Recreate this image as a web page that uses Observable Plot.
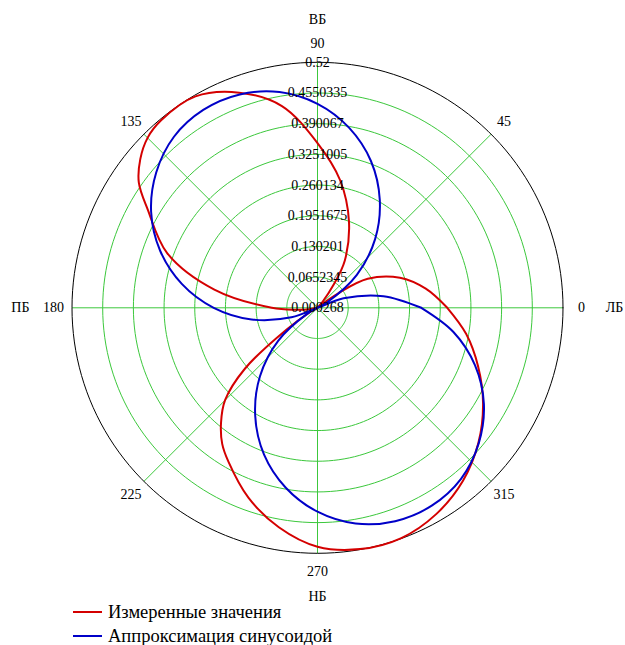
<!DOCTYPE html>
<html>
<head>
<meta charset="utf-8">
<script src="https://cdn.jsdelivr.net/npm/d3@7"></script>
<script src="https://cdn.jsdelivr.net/npm/@observablehq/plot@0.6"></script>
<style>
  html, body { margin: 0; padding: 0; background: #fff; width: 625px; height: 645px; overflow: hidden; }
  #chart { position: absolute; left: 0; top: 0; }
  .leg { position: absolute; left: 73px; height: 24px; display: flex; align-items: center;
         font-family: "Liberation Serif", "DejaVu Serif", "Times New Roman", serif; font-size: 18.5px; color: #000; white-space: nowrap; }
  .leg span.sw { display: inline-block; width: 29px; height: 2px; margin-right: 6px; }
</style>
</head>
<body>
<div id="chart"></div>
<div class="leg" style="top:600px"><span class="sw" style="background:#d40000"></span>Измеренные значения</div>
<div class="leg" style="top:624px"><span class="sw" style="background:#0000c8"></span>Аппроксимация синусоидой</div>
<script>
// ---- data ----
const angleTicks = [0, 45, 90, 135, 180, 225, 270, 315];
const radialTicks = [0.000268, 0.0652345, 0.130201, 0.1951675, 0.260134, 0.3251005, 0.390067, 0.4550335, 0.52];
const radialLabels = ["0.000268", "0.0652345", "0.130201", "0.1951675", "0.260134", "0.3251005", "0.390067", "0.4550335", "0.52"];
const compassAngles = [0, 90, 180, 270];
const compassLabels = ["ЛБ", "ВБ", "ПБ", "НБ"];

// measured values (red)
const measuredAngles = [0, 10, 20, 30, 35, 40, 45, 50, 55, 60, 70, 80, 90, 100, 110, 120, 130, 135, 140, 145, 150, 160, 170, 180, 185, 190, 200, 210, 215, 220, 225, 230, 235, 240, 250, 260, 270, 280, 290, 300, 310, 320, 330, 340, 350, 360];
const measuredValues = [0.275, 0.233, 0.186, 0.123, 0.053, 0.006, 0.000, 0.017, 0.059, 0.116, 0.195, 0.275, 0.349, 0.434, 0.485, 0.517, 0.517, 0.509, 0.490, 0.462, 0.415, 0.339, 0.222, 0.097, 0.047, 0.017, 0.000, 0.017, 0.080, 0.201, 0.277, 0.318, 0.352, 0.377, 0.428, 0.472, 0.506, 0.519, 0.519, 0.504, 0.479, 0.445, 0.405, 0.362, 0.320, 0.275];

// sinusoid approximation (blue)
const approxAngles = [0, 10, 20, 27, 30, 40, 50, 60, 70, 80, 90, 100, 110, 120, 130, 140, 150, 160, 170, 180, 190, 200, 207, 210, 220, 230, 240, 250, 260, 270, 280, 290, 300, 310, 320, 330, 340, 350, 360];
const approxValues = [0.220, 0.142, 0.059, 0.000, 0.025, 0.109, 0.190, 0.264, 0.331, 0.387, 0.432, 0.464, 0.481, 0.484, 0.473, 0.446, 0.407, 0.355, 0.292, 0.220, 0.142, 0.059, 0.000, 0.025, 0.109, 0.190, 0.264, 0.331, 0.387, 0.432, 0.464, 0.481, 0.484, 0.473, 0.446, 0.407, 0.355, 0.292, 0.220];

// ---- geometry helpers ----
const R0 = radialTicks[0];
const RMAX = radialTicks[radialTicks.length - 1];
const span = RMAX - R0;
const rad = (a) => a * Math.PI / 180;
const toXY = (a, r) => {
  const d = Math.max(0, r - R0);
  return { x: d * Math.cos(rad(a)), y: d * Math.sin(rad(a)) };
};

const measured = measuredAngles.map((a, i) => ({ ...toXY(a, measuredValues[i]) }));
const approx = approxAngles.map((a, i) => ({ ...toXY(a, approxValues[i]) }));

const ringPts = [];
radialTicks.slice(1).forEach((v, k) => {
  for (let a = 0; a <= 360; a += 2) ringPts.push({ ...toXY(a, v), ring: k, outer: k === radialTicks.length - 2 });
});
const spokes = angleTicks.map(a => ({ ...toXY(a, RMAX), a }));
const angleLab = angleTicks.map(a => ({ ...toXY(a, R0 + span * 1.075), t: String(a) }));
const compassLab = compassAngles.map((a, i) => ({ ...toXY(a, R0 + span * (a % 180 === 0 ? 1.21 : 1.175)), t: compassLabels[i] }));
const radLab = radialTicks.map((v, i) => ({ x: 0, y: v - R0, t: radialLabels[i] }));

const cx = 317, cy = 307.3, Rpx = 245.5;

const chart = Plot.plot({
  width: 625,
  height: 600,
  margin: 0,
  x: { domain: [-span, span], range: [cx - Rpx, cx + Rpx], axis: null },
  y: { domain: [-span, span], range: [cy + Rpx, cy - Rpx], axis: null },
  style: { fontFamily: "'Liberation Serif', 'DejaVu Serif', 'Times New Roman', serif", fontSize: "14px", background: "#fff", overflow: "visible" },
  marks: [
    Plot.line(ringPts.filter(d => !d.outer), { x: "x", y: "y", z: "ring", stroke: "#3cc83c", strokeWidth: 1 }),
    Plot.link(spokes, { x1: 0, y1: 0, x2: "x", y2: "y", stroke: "#3cc83c", strokeWidth: 1 }),
    Plot.line(ringPts.filter(d => d.outer), { x: "x", y: "y", stroke: "#000", strokeWidth: 1 }),
    Plot.line(measured, { x: "x", y: "y", stroke: "#d40000", strokeWidth: 2, curve: "catmull-rom" }),
    Plot.line(approx, { x: "x", y: "y", stroke: "#0000c8", strokeWidth: 2, curve: "catmull-rom" }),
    Plot.text(radLab, { x: "x", y: "y", text: "t", fill: "#000", fontSize: 14 }),
    Plot.text(angleLab, { x: "x", y: "y", text: "t", fill: "#000", fontSize: 14 }),
    Plot.text(compassLab, { x: "x", y: "y", text: "t", fill: "#000", fontSize: 14 })
  ]
});
document.getElementById("chart").appendChild(chart);
</script>
</body>
</html>
